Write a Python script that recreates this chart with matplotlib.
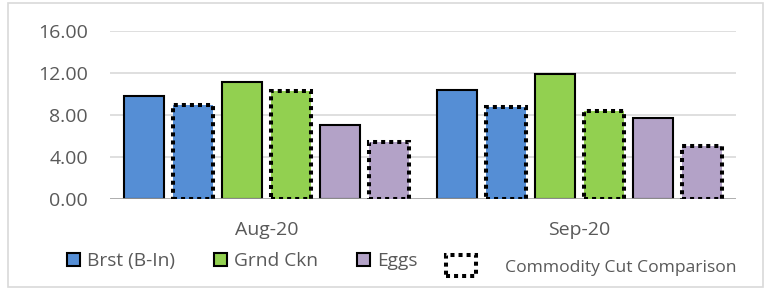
import matplotlib
matplotlib.use("Agg")
import matplotlib.pyplot as plt
from matplotlib.patches import Rectangle, Patch
import numpy as np

plt.rcParams['font.family'] = ['Open Sans', 'DejaVu Sans']

categories = ["Aug-20", "Sep-20"]
series_names = ["Brst (B-In)", "Grnd Ckn", "Eggs"]
solid_values = {
    "Brst (B-In)": [9.81, 10.38],
    "Grnd Ckn": [11.10, 11.90],
    "Eggs": [7.02, 7.68],
}
comparison_values = {
    "Brst (B-In)": [8.95, 8.79],
    "Grnd Ckn": [10.30, 8.38],
    "Eggs": [5.46, 5.05],
}
colors = {"Brst (B-In)": "#558ED5", "Grnd Ckn": "#92D050", "Eggs": "#B3A2C7"}
comparison_label = "Commodity Cut Comparison"
yticks = [0, 4, 8, 12, 16]
ytick_labels = ["0.00", "4.00", "8.00", "12.00", "16.00"]

W, H = 773, 290
fig = plt.figure(figsize=(W / 100, H / 100), dpi=100)
ax = fig.add_axes([110 / W, 1 - 199 / H, 626 / W, 168 / H])

x = np.arange(len(categories))
slot = 0.1565
bw = 0.128
text_color = "#595959"

for i, name in enumerate(series_names):
    off_solid = (2 * i - 2.5) * slot
    off_cmp = (2 * i - 1.5) * slot
    ax.bar(x + off_solid, solid_values[name], width=bw, color=colors[name],
           edgecolor="black", linewidth=1.5, zorder=2)
    ax.bar(x + off_cmp, comparison_values[name], width=bw, color=colors[name],
           edgecolor="black", linewidth=2.9, linestyle=(0, (1, 1)),
           capstyle="butt", zorder=4)

ax.axhline(0, color="#A6A6A6", linewidth=1.2, zorder=3)
ax.set_ylim(0, 16)
ax.set_xlim(-0.5, 1.5)
ax.set_yticks(yticks)
ax.set_yticklabels(ytick_labels)
ax.set_xticks(x)
ax.set_xticklabels(categories)
ax.tick_params(axis="both", length=0, labelsize=14, labelcolor=text_color)
ax.tick_params(axis="y", pad=16)
ax.tick_params(axis="x", pad=16)
ax.yaxis.grid(True, color="#D9D9D9", linewidth=1.2, zorder=0)
ax.set_axisbelow(True)
for s in ax.spines.values():
    s.set_visible(False)

handles = [Patch(facecolor=colors[n], edgecolor="black", linewidth=1.5) for n in series_names]
leg = fig.legend(handles, series_names, loc="center left",
                 bbox_to_anchor=(67 / W, 1 - 261 / H), ncol=3, frameon=False,
                 fontsize=13.8, borderpad=0, borderaxespad=0,
                 handlelength=0.68, handleheight=0.68, handletextpad=0.35,
                 columnspacing=2.05, labelcolor=text_color)

# comparison legend entry
fig.add_artist(Rectangle((446 / W, 1 - 276 / H), 30 / W, 21 / H,
                         transform=fig.transFigure, facecolor="none",
                         edgecolor="black", linewidth=2.9,
                         linestyle=(0, (1, 1)), capstyle="butt"))
fig.text(505 / W, 1 - 268 / H, comparison_label, fontsize=12.6,
         color=text_color, va="center", ha="left")

# outer chart border
fig.add_artist(Rectangle((8 / W, 3 / H), 755 / W, 284 / H,
                         transform=fig.transFigure, facecolor="none",
                         edgecolor="#D9D9D9", linewidth=1.2))

fig.savefig("out.png", dpi=100)
